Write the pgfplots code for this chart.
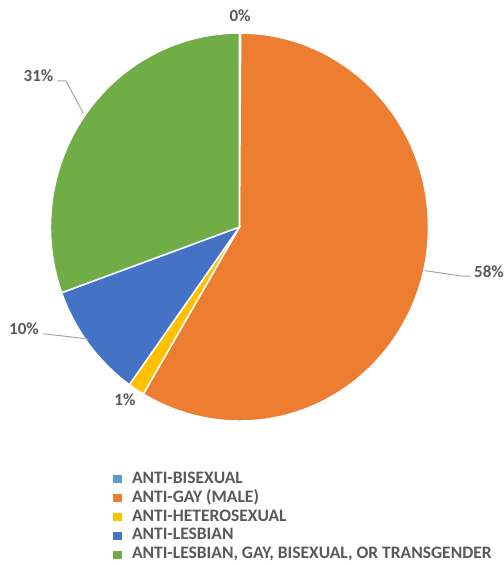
\documentclass[border=0pt]{standalone}
\usepackage{pgfplots}
\pgfplotsset{compat=1.18}
\usepackage{fontspec}
\setmainfont{Carlito}
\definecolor{cBis}{HTML}{5B9BD5}
\definecolor{cGay}{HTML}{ED7D31}
\definecolor{cHet}{HTML}{FFC000}
\definecolor{cLes}{HTML}{4472C4}
\definecolor{cLGBT}{HTML}{70AD47}
\definecolor{txt}{HTML}{595959}
\definecolor{lead}{HTML}{A6A6A6}
% data (percent of total)
\def\vBis{0.1}
\def\vGay{58.4}
\def\vHet{1.4}
\def\vLes{9.6}
\def\vLGBT{30.5}
\pgfmathsetmacro\aA{90}
\pgfmathsetmacro\aB{\aA-3.6*\vBis}
\pgfmathsetmacro\aC{\aB-3.6*\vGay}
\pgfmathsetmacro\aD{\aC-3.6*\vHet}
\pgfmathsetmacro\aE{\aD-3.6*\vLes}
\pgfmathsetmacro\aF{\aE-3.6*\vLGBT}
\begin{document}
\begin{tikzpicture}
\begin{axis}[hide axis, x=189bp, y=194bp,
  xmin=-1.267, xmax=1.399, ymin=-1.742, ymax=1.170, clip=false,
  legend style={at={(axis cs:-0.667,-1.259)}, anchor=north west, draw=none, fill=none,
    inner sep=0pt, outer sep=0pt, font=\bfseries\fontsize{17.5bp}{20bp}\selectfont, text=txt,
    nodes={inner sep=0pt, text height=12bp, text depth=3.5bp},
    row sep=3.4bp, /tikz/every odd column/.append style={column sep=11bp}},
  legend cell align=left]
\addlegendimage{legend image code/.code={\fill[cBis] (0bp,-3.6bp) rectangle (7.2bp,3.6bp);}}
\addlegendentry{ANTI-BISEXUAL}
\addlegendimage{legend image code/.code={\fill[cGay] (0bp,-3.6bp) rectangle (7.2bp,3.6bp);}}
\addlegendentry{ANTI-GAY (MALE)}
\addlegendimage{legend image code/.code={\fill[cHet] (0bp,-3.6bp) rectangle (7.2bp,3.6bp);}}
\addlegendentry{ANTI-HETEROSEXUAL}
\addlegendimage{legend image code/.code={\fill[cLes] (0bp,-3.6bp) rectangle (7.2bp,3.6bp);}}
\addlegendentry{ANTI-LESBIAN}
\addlegendimage{legend image code/.code={\fill[cLGBT] (0bp,-3.6bp) rectangle (7.2bp,3.6bp);}}
\addlegendentry{ANTI-LESBIAN, GAY, BISEXUAL, OR TRANSGENDER}
\path (axis cs:-1.267,1.170) rectangle (axis cs:1.399,-1.742);
\filldraw[fill=cBis, draw=white, line width=1.5bp] (axis cs:0,0) -- (axis cs:{cos(\aA)},{sin(\aA)}) arc[start angle=\aA, end angle=\aB, x radius=189bp, y radius=194bp] -- cycle;
\filldraw[fill=cGay, draw=white, line width=1.5bp] (axis cs:0,0) -- (axis cs:{cos(\aB)},{sin(\aB)}) arc[start angle=\aB, end angle=\aC, x radius=189bp, y radius=194bp] -- cycle;
\filldraw[fill=cHet, draw=white, line width=1.5bp] (axis cs:0,0) -- (axis cs:{cos(\aC)},{sin(\aC)}) arc[start angle=\aC, end angle=\aD, x radius=189bp, y radius=194bp] -- cycle;
\filldraw[fill=cLes, draw=white, line width=1.5bp] (axis cs:0,0) -- (axis cs:{cos(\aD)},{sin(\aD)}) arc[start angle=\aD, end angle=\aE, x radius=189bp, y radius=194bp] -- cycle;
\filldraw[fill=cLGBT, draw=white, line width=1.5bp] (axis cs:0,0) -- (axis cs:{cos(\aE)},{sin(\aE)}) arc[start angle=\aE, end angle=\aF, x radius=189bp, y radius=194bp] -- cycle;
% leader lines
\draw[lead, line width=1bp] (axis cs:-0.964,0.753) -- (axis cs:-0.918,0.753) -- (axis cs:-0.826,0.586);
\draw[lead, line width=1bp] (axis cs:-1.038,-0.550) -- (axis cs:-0.800,-0.577);
\draw[lead, line width=1bp] (axis cs:0.981,-0.225) -- (axis cs:1.176,-0.253) -- (axis cs:1.223,-0.253);
% data labels
\begin{scope}[every node/.style={font=\bfseries\fontsize{17bp}{20bp}\selectfont, text=txt, inner sep=0pt}]
\node at (axis cs:0.003,1.088) {0\%};
\node at (axis cs:-1.063,0.778) {31\%};
\node at (axis cs:-1.140,-0.526) {10\%};
\node at (axis cs:-0.606,-0.892) {1\%};
\node at (axis cs:1.320,-0.229) {58\%};
\end{scope}
\end{axis}
\end{tikzpicture}
\end{document}
